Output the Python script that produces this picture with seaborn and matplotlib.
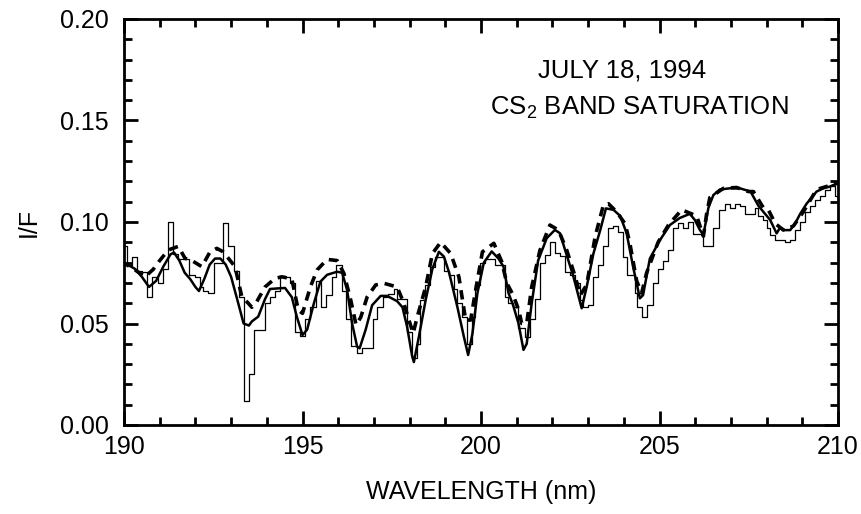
import matplotlib
matplotlib.use("Agg")
import matplotlib.pyplot as plt
import pandas as pd
import seaborn as sns
from matplotlib.ticker import MultipleLocator, FormatStrFormatter

# observed spectrum, stepped: left edge of each bin and its I/F
hist_wl = [189.93, 190.075, 190.215, 190.374, 190.495, 190.635, 190.794, 190.943,
           191.083, 191.223, 191.363, 191.522, 191.681, 191.83, 191.989, 192.129,
           192.222, 192.362, 192.53, 192.67, 192.782, 192.922, 193.081, 193.23,
           193.37, 193.51, 193.65, 193.81, 193.95, 194.09, 194.23, 194.37,
           194.51, 194.65, 194.79, 194.93, 195.08, 195.22, 195.38, 195.52,
           195.67, 195.82, 195.95, 196.1, 196.22, 196.37, 196.52, 196.67,
           196.97, 197.1, 197.25, 197.4, 197.55, 197.66, 197.94, 198.08,
           198.2, 198.3, 198.43, 198.57, 198.71, 198.97, 199.1, 199.23,
           199.34, 199.46, 199.6, 199.74, 199.83, 199.97, 200.1, 200.4,
           200.67, 200.77, 200.9, 201.05, 201.23, 201.37, 201.5, 201.65,
           201.8, 201.93, 202.07, 202.2, 202.35, 202.5, 202.64, 202.78,
           202.87, 203.0, 203.15, 203.29, 203.43, 203.57, 203.71, 203.85,
           203.99, 204.1, 204.31, 204.37, 204.5, 204.66, 204.82, 204.95,
           205.1, 205.25, 205.39, 205.53, 205.67, 205.81, 205.95, 206.23,
           206.51, 206.67, 206.83, 206.97, 207.11, 207.25, 207.4, 207.68,
           207.77, 207.91, 208.0, 208.1, 208.24, 208.52, 208.66, 208.8,
           208.94, 209.08, 209.22, 209.36, 209.5, 209.64, 209.78, 209.92,
           210.06]
hist_if = [0.088, 0.079, 0.083, 0.076, 0.0755, 0.063, 0.073, 0.070,
           0.077, 0.100, 0.084, 0.082, 0.082, 0.074, 0.073, 0.068,
           0.066, 0.065, 0.080, 0.080, 0.0995, 0.088, 0.076, 0.063,
           0.012, 0.025, 0.047, 0.047, 0.060, 0.063, 0.066, 0.0735,
           0.073, 0.070, 0.046, 0.044, 0.052, 0.058, 0.071, 0.058,
           0.064, 0.073, 0.079, 0.066, 0.052, 0.039, 0.0355, 0.038,
           0.052, 0.058, 0.063, 0.0645, 0.067, 0.062, 0.046, 0.033,
           0.040, 0.0616, 0.069, 0.078, 0.083, 0.076, 0.074, 0.067,
           0.060, 0.053, 0.040, 0.053, 0.069, 0.080, 0.082, 0.079,
           0.063, 0.060, 0.058, 0.048, 0.0435, 0.052, 0.062, 0.0796,
           0.0837, 0.090, 0.0845, 0.0833, 0.0755, 0.074, 0.070, 0.0616,
           0.0583, 0.059, 0.073, 0.0788, 0.088, 0.097, 0.098, 0.095,
           0.083, 0.074, 0.065, 0.058, 0.0534, 0.059, 0.070, 0.077,
           0.081, 0.086, 0.097, 0.0993, 0.097, 0.100, 0.094, 0.088,
           0.097, 0.106, 0.109, 0.107, 0.109, 0.108, 0.104, 0.107,
           0.103, 0.101, 0.097, 0.0936, 0.091, 0.090, 0.091, 0.096,
           0.100, 0.105, 0.108, 0.111, 0.113, 0.116, 0.1175, 0.113,
           0.113]

# best-fit model (solid)
fit_wl = [189.9, 190.0, 190.3, 190.5, 190.7, 190.9, 191.1, 191.3, 191.4, 191.55,
          191.7, 191.85, 192.0, 192.1, 192.25, 192.4, 192.55, 192.7, 192.85, 193.0,
          193.2, 193.35, 193.5, 193.58, 193.76, 193.95, 194.09, 194.32, 194.51, 194.7,
          194.84, 195.0, 195.13, 195.32, 195.5, 195.69, 195.97, 196.11, 196.25, 196.39,
          196.53, 196.6, 196.77, 196.95, 197.19, 197.37, 197.65, 197.8, 197.93, 198.07,
          198.12, 198.26, 198.45, 198.64, 198.82, 198.96, 199.1, 199.34, 199.52, 199.64,
          199.76, 199.9, 200.08, 200.3, 200.49, 200.63, 200.77, 200.9, 201.05, 201.19,
          201.28, 201.42, 201.6, 201.84, 202.07, 202.21, 202.4, 202.59, 202.82, 202.96,
          203.15, 203.34, 203.5, 203.71, 203.9, 204.08, 204.26, 204.45, 204.54, 204.73,
          205.01, 205.29, 205.57, 205.85, 205.99, 206.13, 206.23, 206.37, 206.51, 206.69,
          206.97, 207.25, 207.55, 207.77, 207.91, 208.1, 208.28, 208.38, 208.52, 208.66,
          208.8, 208.94, 209.12, 209.4, 209.59, 209.78, 209.97, 210.1]
fit_if = [0.081, 0.080, 0.077, 0.073, 0.068, 0.071, 0.078, 0.084, 0.085, 0.081,
          0.075, 0.072, 0.068, 0.066, 0.072, 0.079, 0.082, 0.082, 0.079, 0.073,
          0.060, 0.050, 0.049, 0.051, 0.0534, 0.062, 0.067, 0.0673, 0.0675, 0.063,
          0.0534, 0.0443, 0.047, 0.060, 0.0706, 0.074, 0.0755, 0.075, 0.0665, 0.050,
          0.0386, 0.0378, 0.047, 0.059, 0.0636, 0.0636, 0.061, 0.058, 0.0484, 0.034,
          0.031, 0.0435, 0.0616, 0.077, 0.0853, 0.083, 0.0755, 0.058, 0.0435, 0.0345,
          0.045, 0.065, 0.080, 0.0855, 0.082, 0.078, 0.065, 0.059, 0.050, 0.037,
          0.040, 0.060, 0.081, 0.092, 0.0961, 0.0945, 0.0837, 0.073, 0.0575, 0.068,
          0.0845, 0.096, 0.1067, 0.106, 0.103, 0.0944, 0.078, 0.0624, 0.064, 0.082,
          0.091, 0.0985, 0.102, 0.104, 0.101, 0.0961, 0.0936, 0.107, 0.1133, 0.116,
          0.1166, 0.1166, 0.115, 0.108, 0.105, 0.101, 0.0944, 0.0973, 0.096, 0.096,
          0.0993, 0.104, 0.109, 0.115, 0.1166, 0.1175, 0.119, 0.120]

# saturated-band model (dashed)
sat_wl = [189.9, 190.07, 190.31, 190.59, 190.82, 191.0, 191.24, 191.52, 191.71, 191.9,
          192.18, 192.41, 192.6, 192.78, 193.11, 193.3, 193.48, 193.58, 193.72, 193.95,
          194.23, 194.42, 194.7, 194.88, 195.0, 195.22, 195.41, 195.69, 195.97, 196.16,
          196.35, 196.5, 196.63, 196.81, 197.05, 197.28, 197.65, 197.84, 197.98, 198.1,
          198.21, 198.45, 198.64, 198.87, 199.15, 199.38, 199.57, 199.71, 199.85, 200.04,
          200.36, 200.58, 200.72, 200.9, 201.05, 201.14, 201.28, 201.42, 201.65, 201.93,
          202.17, 202.4, 202.64, 202.78, 202.96, 203.2, 203.43, 203.57, 203.8, 204.04,
          204.17, 204.36, 204.5, 204.64, 204.96, 205.25, 205.62, 206.04, 206.23, 206.32,
          206.41, 206.79, 207.16, 207.49, 207.63, 207.91, 208.05, 208.24, 208.47, 208.75,
          209.03, 209.4, 209.68, 209.97, 210.1]
sat_if = [0.080, 0.079, 0.0764, 0.073, 0.0767, 0.081, 0.0862, 0.088, 0.0821, 0.081,
          0.078, 0.0853, 0.087, 0.0853, 0.078, 0.0632, 0.060, 0.058, 0.0608, 0.068,
          0.0722, 0.073, 0.072, 0.0567, 0.055, 0.068, 0.0764, 0.0816, 0.081, 0.0747,
          0.0616, 0.0493, 0.053, 0.063, 0.069, 0.0698, 0.068, 0.060, 0.0517, 0.0452,
          0.053, 0.068, 0.0845, 0.090, 0.0845, 0.073, 0.0517, 0.0517, 0.0665, 0.0853,
          0.0895, 0.0805, 0.070, 0.064, 0.057, 0.050, 0.050, 0.068, 0.086, 0.0985,
          0.096, 0.0862, 0.073, 0.064, 0.069, 0.093, 0.1084, 0.109, 0.105, 0.099,
          0.0895, 0.071, 0.065, 0.075, 0.090, 0.0985, 0.106, 0.103, 0.093, 0.104,
          0.112, 0.1166, 0.117, 0.115, 0.115, 0.107, 0.106, 0.0993, 0.096, 0.098,
          0.105, 0.116, 0.1175, 0.119, 0.120]

sns.set_style("ticks")
plt.rcParams['font.family'] = ['Liberation Sans', 'DejaVu Sans']
plt.rcParams['mathtext.fontset'] = 'custom'
plt.rcParams['mathtext.rm'] = 'Liberation Sans'
plt.rcParams['text.color'] = 'black'
plt.rcParams['axes.labelcolor'] = 'black'

fig = plt.figure(figsize=(8.61, 5.14), dpi=100)
ax = fig.add_axes([124 / 861, 1 - 425 / 514, (838 - 124) / 861, (425 - 19) / 514])

obs = pd.DataFrame({'wl': hist_wl, 'IF': hist_if})
fit = pd.DataFrame({'wl': fit_wl, 'IF': fit_if})
sat = pd.DataFrame({'wl': sat_wl, 'IF': sat_if})

sns.lineplot(data=obs, x='wl', y='IF', drawstyle='steps-post', color='black',
             lw=0.9, estimator=None, ax=ax)
sns.lineplot(data=fit, x='wl', y='IF', color='black', lw=1.8, estimator=None, ax=ax)
sns.lineplot(data=sat, x='wl', y='IF', color='black', lw=2.6, estimator=None, ax=ax,
             linestyle=(0, (2.6, 1.9)))

ax.set_xlim(190, 210)
ax.set_ylim(0, 0.20)
ax.xaxis.set_major_locator(MultipleLocator(5))
ax.xaxis.set_minor_locator(MultipleLocator(1))
ax.yaxis.set_major_locator(MultipleLocator(0.05))
ax.yaxis.set_minor_locator(MultipleLocator(0.01))
ax.yaxis.set_major_formatter(FormatStrFormatter('%.2f'))
ax.tick_params(which='both', direction='in', top=True, right=True, width=2,
               labelsize=18, colors='black')
ax.tick_params(which='major', length=10, pad=7)
ax.tick_params(axis='y', which='major', pad=11)
ax.tick_params(which='minor', length=6)
for s in ax.spines.values():
    s.set_linewidth(2)
    s.set_color('black')

ax.set_xlabel('WAVELENGTH (nm)', fontsize=18, labelpad=15)
ax.set_ylabel('I/F', fontsize=18, labelpad=14)

ax.text(0.6975, 0.857, 'JULY 18, 1994', transform=ax.transAxes, ha='center',
        va='baseline', fontsize=18.5)
ax.text(0.721, 0.764, 'CS$_2$ BAND SATURATION', transform=ax.transAxes, ha='center',
        va='baseline', fontsize=18.5)

fig.savefig('out.png', dpi=100)
